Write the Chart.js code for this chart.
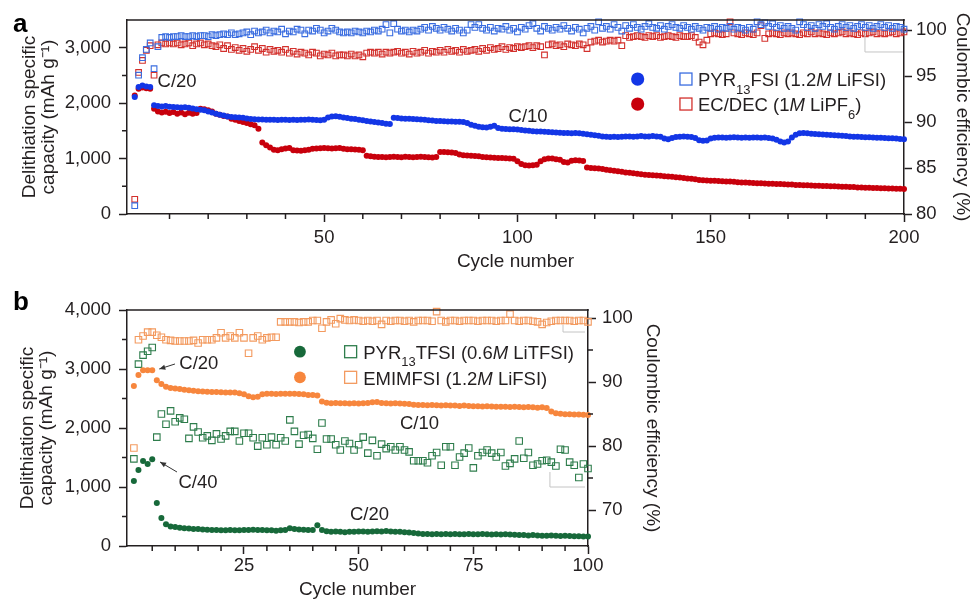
<!DOCTYPE html>
<html lang="en">
<head>
  <meta charset="UTF-8">
  <title>Delithiation capacity and coulombic efficiency</title>
  <style>
    * { margin: 0; padding: 0; box-sizing: border-box; }
    body { width: 972px; height: 600px; background: #fff; position: relative; overflow: hidden; }
    #chartA { position: absolute; left: 0; top: 0; }
    #chartB { position: absolute; left: 0; top: 285px; }
  </style>
</head>
<body>
  <canvas id="chartA" width="972" height="285"></canvas>
  <canvas id="chartB" width="700" height="315"></canvas>

  <script src="https://cdn.jsdelivr.net/npm/chart.js@4.4.1/dist/chart.umd.min.js"></script>
  <script>
    // ---- panel a: 200 cycles, one value per cycle ----
    const pyrCapA = [
      2110, 2290, 2320, 2300, 2290, 1960, 1950, 1940, 1950, 1935,
      1930, 1925, 1920, 1925, 1915, 1905, 1890, 1880, 1870, 1850,
      1830, 1810, 1790, 1775, 1760, 1750, 1745, 1740, 1735, 1725,
      1715, 1710, 1705, 1705, 1700, 1700, 1700, 1695, 1700, 1700,
      1695, 1700, 1695, 1700, 1700, 1705, 1700, 1695, 1690, 1700,
      1740, 1760, 1765, 1755, 1740, 1730, 1720, 1715, 1700, 1690,
      1680, 1670, 1660, 1650, 1640, 1630, 1625, 1735, 1730, 1725,
      1720, 1720, 1715, 1710, 1705, 1700, 1690, 1685, 1680, 1680,
      1675, 1670, 1670, 1665, 1665, 1660, 1640, 1610, 1590, 1575,
      1565, 1560, 1575, 1590, 1550, 1540, 1535, 1530, 1530, 1525,
      1515, 1505, 1500, 1495, 1490, 1490, 1485, 1480, 1475, 1470,
      1465, 1460, 1460, 1455, 1460, 1455, 1450, 1440, 1430, 1420,
      1410, 1400, 1395, 1390, 1395, 1390, 1395, 1400, 1400, 1395,
      1400, 1405, 1400, 1400, 1405, 1400, 1395, 1360, 1350, 1370,
      1390, 1395, 1400, 1395, 1390, 1370, 1330, 1320, 1325, 1360,
      1375, 1380, 1380, 1375, 1380, 1385, 1380, 1375, 1380, 1375,
      1380, 1380, 1375, 1380, 1370, 1360, 1340, 1310, 1290, 1310,
      1380, 1430, 1455, 1460, 1455, 1450, 1445, 1440, 1435, 1430,
      1425, 1420, 1415, 1410, 1405, 1400, 1395, 1395, 1390, 1385,
      1385, 1380, 1375, 1375, 1370, 1365, 1365, 1360, 1355, 1350
    ];
    const ecCapA = [
      2140, 2260, 2280, 2270, 2260, 1900, 1850, 1830, 1845, 1820,
      1840, 1810, 1830, 1800, 1825, 1810, 1820, 1900, 1890, 1870,
      1850, 1810, 1790, 1770, 1760, 1720, 1700, 1680, 1660, 1640,
      1620, 1600, 1540, 1290, 1240, 1200, 1160, 1150, 1170, 1180,
      1190, 1150, 1145, 1140, 1150, 1160, 1175, 1180, 1185, 1190,
      1185, 1180, 1185, 1190, 1175, 1170, 1170, 1165, 1160, 1150,
      1050, 1040, 1035, 1030, 1030, 1025, 1030, 1035, 1030, 1025,
      1035, 1030, 1025, 1030, 1035, 1030, 1025, 1020, 1030, 1120,
      1120, 1115, 1110, 1100, 1075, 1060, 1055, 1050, 1045, 1040,
      1030, 1025, 1020, 1015, 1010, 1010, 1005, 1000, 995, 950,
      900, 880, 875, 880, 890, 950, 990, 1000, 1000, 990,
      980, 940, 930, 960, 970, 965, 955, 840, 830, 825,
      820, 810, 800, 790, 780, 770, 760, 750, 745, 735,
      725, 715, 710, 705, 700, 695, 690, 680, 675, 670,
      665, 660, 650, 640, 635, 625, 615, 610, 605, 600,
      600, 595, 590, 585, 585, 580, 575, 570, 570, 565,
      560, 555, 555, 550, 545, 545, 540, 540, 535, 530,
      530, 525, 525, 520, 520, 515, 510, 510, 505, 505,
      500, 500, 495, 490, 490, 485, 485, 480, 480, 475,
      475, 470, 470, 465, 465, 460, 460, 455, 455, 450
    ];
    const pyrCEA = [
      80.9, 95.1, 97.0, 97.9, 98.6, 95.8, 98.2, 99.2, 99.3, 99.2,
      99.3, 99.3, 99.4, 99.3, 99.3, 99.4, 99.3, 99.4, 99.4, 99.3,
      99.5, 99.4, 99.5, 99.6, 99.5, 99.7, 99.5, 99.6, 99.7, 99.8,
      99.5, 99.9, 99.7, 99.8, 100.0, 99.7, 99.9, 99.8, 100.1, 99.6,
      99.9, 99.8, 100.1, 100.0, 99.6, 100.0, 99.9, 100.2, 100.0, 99.7,
      99.9, 100.2, 100.0, 99.8, 99.7, 99.8, 99.7, 99.9, 99.8, 99.7,
      99.9, 99.8, 100.0, 99.9, 100.1, 100.6, 99.7, 100.7, 100.1, 99.9,
      100.0, 99.8, 100.0, 99.9, 100.1, 100.3, 100.0, 100.4, 100.2, 100.0,
      100.3, 100.1, 99.9, 100.2, 100.0, 99.7, 100.0, 100.6, 100.3, 100.6,
      100.2, 100.0, 100.3, 99.9, 100.2, 100.1, 100.4, 100.0, 100.2, 99.8,
      100.3, 100.1, 100.5, 100.7, 100.2, 99.9, 100.4, 100.2, 100.0, 100.3,
      100.1, 100.5, 100.2, 99.9, 100.3, 100.1, 99.7, 100.2, 100.4, 100.0,
      100.9, 100.2, 100.4, 100.1, 100.6, 100.3, 99.9, 100.5, 100.2, 100.6,
      100.3, 100.1, 100.4, 100.7, 100.3, 100.2, 100.5, 100.1, 100.4, 100.6,
      100.3, 100.2, 100.5, 100.3, 100.1, 100.4, 100.2, 100.0, 100.3, 100.2,
      100.4, 100.1, 100.3, 100.2, 100.4, 100.1, 100.3, 100.2, 100.0, 100.3,
      100.1, 100.9, 100.6, 100.8, 100.4, 100.7, 100.3, 100.5, 100.2, 100.4,
      100.2, 100.0, 100.9, 100.6, 100.3, 100.5, 100.2, 100.6, 100.4, 100.7,
      100.3, 100.1, 100.4, 100.6, 100.3, 100.5, 100.2, 100.4, 100.6, 100.3,
      100.5, 100.2, 100.4, 100.6, 100.3, 100.5, 100.2, 100.4, 100.3, 100.1
    ];
    const ecCEA = [
      81.6, 95.4, 96.7, 97.8, 98.3, 95.1, 98.4, 98.6, 98.5, 98.6,
      98.5, 98.6, 98.4, 98.5, 98.6, 98.3, 98.5, 98.6, 98.4, 98.5,
      98.3, 98.2, 98.4, 98.0, 98.3, 97.9, 98.1, 97.8, 98.0, 97.7,
      97.9, 98.2, 97.8, 98.0, 97.6, 97.9, 97.7, 97.8, 97.6, 97.9,
      97.5, 97.7, 97.4, 97.6, 97.5, 97.3, 97.6, 97.5, 97.2, 97.4,
      97.3, 97.5, 97.2, 97.3, 97.3, 97.2, 97.4, 97.2, 97.3, 97.1,
      97.5, 97.6, 97.5, 97.6, 97.4, 97.6, 97.5, 97.6, 97.7, 97.5,
      97.6, 97.4, 97.7, 97.5, 97.6, 97.8, 97.5, 97.7, 97.6, 97.8,
      97.6, 97.9, 97.7, 97.8, 97.6, 97.9, 97.7, 97.8, 97.9, 97.7,
      98.0, 97.8, 98.1, 97.9, 98.0, 98.2, 97.9, 98.1, 98.0, 98.2,
      98.1, 98.2, 98.3, 98.1, 98.3, 98.2, 97.3, 98.4, 98.5, 98.3,
      98.4, 98.2, 98.5, 98.4, 98.3, 98.5, 98.4, 98.0, 98.7, 98.8,
      98.9, 98.7, 98.8, 98.9, 98.8, 98.9, 98.3, 99.4, 99.2, 99.3,
      99.4, 99.3, 99.2, 99.4, 99.3, 99.4, 99.2, 99.3, 99.4, 99.3,
      99.2, 99.4, 99.3, 99.3, 99.4, 99.2, 98.7, 98.4, 98.9, 99.6,
      99.7, 99.6, 99.5, 99.6, 100.9, 99.7, 99.6, 99.5, 99.7, 99.6,
      99.5, 99.7, 100.5, 99.1, 99.6, 99.7, 99.6, 99.5, 99.7, 99.6,
      99.7, 99.6, 99.5, 99.7, 99.6, 99.8, 99.6, 99.7, 99.6, 99.5,
      99.7, 99.6, 99.7, 99.8, 99.6, 99.7, 99.6, 99.5, 99.7, 99.6,
      99.7, 99.8, 99.6, 99.7, 99.6, 99.7, 99.8, 99.6, 99.7, 99.8
    ];

    // ---- panel b: 100 cycles ----
    const tfsiCapB = [
      1100, 1290, 1440, 1390, 1470, 730, 475, 370, 330, 320,
      310, 300, 295, 290, 290, 280, 275, 270, 270, 265,
      265, 270, 265, 265, 270, 270, 275, 270, 270, 265,
      265, 260, 265, 270, 300, 290, 280, 275, 270, 270,
      350, 270, 250, 240, 245, 240, 235, 240, 240, 245,
      245, 240, 245, 250, 245, 255, 245, 240, 240, 235,
      230, 220, 210, 205, 205, 200, 205, 200, 205, 200,
      205, 200, 200, 205, 200, 200, 205, 200, 195, 200,
      195, 200, 195, 190, 185, 185, 180, 185, 180, 175,
      175, 180, 175, 170, 175, 170, 165, 165, 160, 160
    ];
    const emimCapB = [
      2710, 2900, 2980, 2980, 2980, 2810, 2745, 2700, 2680, 2670,
      2660, 2650, 2640, 2630, 2625, 2620, 2615, 2610, 2610, 2605,
      2600, 2600, 2600, 2590, 2570, 2540, 2520, 2530, 2570, 2580,
      2580, 2575, 2580, 2580, 2580, 2580, 2575, 2570, 2560, 2560,
      2550, 2450, 2430, 2420, 2425, 2420, 2420, 2415, 2420, 2415,
      2420, 2425, 2435, 2440, 2425, 2420, 2415, 2420, 2415, 2410,
      2405, 2395, 2390, 2390, 2385, 2390, 2385, 2380, 2385, 2380,
      2380, 2375, 2380, 2375, 2370, 2370, 2365, 2370, 2365, 2360,
      2360, 2360, 2355, 2360, 2355, 2350, 2355, 2350, 2345, 2350,
      2340, 2280, 2250, 2240, 2235, 2235, 2230, 2230, 2225, 2220
    ];
    const tfsiCEB = [
      78.0, 92.8, 94.2, 94.8, 95.4, 81.4, 85.0, 83.4, 85.5, 83.8,
      84.4, 84.2, 81.2, 83.0, 82.2, 81.3, 81.6, 80.9, 81.9, 81.1,
      81.6, 82.3, 82.3, 80.8, 82.0, 82.0, 81.3, 80.0, 81.3, 80.2,
      81.4, 80.2, 81.3, 80.8, 84.1, 82.3, 80.3, 81.7, 81.8, 81.2,
      79.5, 83.6, 81.1, 81.1, 80.2, 79.4, 80.8, 80.4, 79.4, 80.2,
      81.4, 78.9, 80.9, 78.5, 80.3, 79.6, 79.9, 79.4, 79.9, 79.4,
      79.1, 77.7, 77.7, 77.7, 77.4, 78.5, 79.0, 77.0, 79.9, 79.9,
      77.0, 78.3, 78.9, 79.7, 76.6, 78.5, 79.0, 79.4, 78.9, 78.3,
      79.0, 76.9, 77.3, 78.0, 80.8, 78.1, 79.0, 77.0, 77.2, 77.7,
      77.8, 77.5, 76.9, 79.5, 79.4, 77.5, 77.0, 75.1, 77.2, 76.5
    ];
    const emimCEB = [
      79.7, 96.6, 97.2, 97.8, 97.8, 97.3, 97.0, 96.6, 96.5, 96.4,
      96.4, 96.4, 96.4, 96.5, 96.1, 96.6, 96.6, 96.6, 96.9, 97.7,
      96.9, 97.2, 96.9, 97.7, 96.9, 94.5, 96.9, 97.2, 96.6, 96.9,
      97.0, 97.0, 99.4, 99.4, 99.4, 99.4, 99.3, 99.4, 99.4, 99.6,
      99.6, 98.4, 99.4, 99.7, 99.1, 99.9, 99.7, 99.6, 99.7, 99.6,
      99.5, 99.6, 99.5, 99.6, 99.0, 99.6, 99.5, 99.6, 99.6, 99.5,
      99.6, 99.4, 99.6, 99.6, 99.6, 99.5, 101.0, 99.6, 99.4, 99.6,
      99.6, 99.5, 99.6, 99.6, 99.6, 99.5, 99.6, 99.6, 99.6, 99.5,
      99.6, 99.6, 100.6, 99.6, 99.5, 99.6, 99.6, 99.5, 99.4, 99.0,
      99.3, 99.5, 99.6, 99.6, 99.6, 99.6, 99.5, 99.6, 99.6, 99.4
    ];

    // tick values
    const aXTicks = [50, 100, 150, 200];
    const aXMinor = [10, 20, 30, 40, 60, 70, 80, 90, 110, 120, 130, 140, 160, 170, 180, 190];
    const aCapTicks = [0, 1000, 2000, 3000];
    const aCapMinor = [500, 1500, 2500];
    const aCETicks = [80, 85, 90, 95, 100];
    const bXTicks = [25, 50, 75, 100];
    const bXMinor = [5, 10, 15, 20, 30, 35, 40, 45, 55, 60, 65, 70, 80, 85, 90, 95];
    const bCapTicks = [0, 1000, 2000, 3000, 4000];
    const bCapMinor = [500, 1500, 2500, 3500];
    const bCETicks = [70, 80, 90, 100];
    const bCEMinor = [75, 85, 95];

    const FONT = '"Liberation Sans", Arial, Helvetica, sans-serif';
    const INK = '#231f20';
    Chart.defaults.font.family = FONT;
    Chart.defaults.color = INK;

    function series(values) {
      return values.map((v, i) => ({x: i + 1, y: v}));
    }

    function dots(label, values, color, axisId, r) {
      return {
        label, data: series(values), yAxisID: axisId, showLine: false, clip: false,
        pointStyle: 'circle', pointRadius: r, pointBorderWidth: 0,
        pointBackgroundColor: color, pointBorderColor: color
      };
    }

    function squares(label, values, color, axisId, r) {
      return {
        label, data: series(values), yAxisID: axisId, showLine: false, clip: false,
        pointStyle: 'rect', pointRadius: r, pointBorderWidth: 1.1,
        pointBackgroundColor: 'rgba(255,255,255,0)', pointBorderColor: color
      };
    }

    function axis(o) {
      return {
        type: 'linear',
        position: o.position,
        min: o.min,
        max: o.max,
        afterBuildTicks: s => { s.ticks = o.ticks.map(v => ({value: v})); },
        afterFit: s => {
          if (o.width) s.width = o.width;
          if (o.height) s.height = o.height;
        },
        border: {display: true, color: INK, width: 1.5},
        grid: {display: true, drawOnChartArea: false, drawTicks: true, tickLength: 8, tickWidth: 1.5, tickColor: INK, color: INK},
        ticks: {
          font: {size: 18.5, lineHeight: 1.2}, color: INK, padding: o.pad,
          autoSkip: false, maxRotation: 0,
          callback: o.comma ? (v => v.toLocaleString('en-US')) : (v => String(v))
        },
        title: {display: true, text: o.title, color: INK, font: {size: 19, lineHeight: 1}, padding: o.titlePad}
      };
    }

    function richText(ctx, x, y, parts, size) {
      let cx = x;
      ctx.textBaseline = 'alphabetic';
      ctx.textAlign = 'left';
      parts.forEach(([t, kind]) => {
        const fs = kind === 'sub' ? size * 0.7 : size;
        ctx.font = (kind === 'it' ? 'italic ' : '') + fs + 'px ' + FONT;
        ctx.fillText(t, cx, y + (kind === 'sub' ? size * 0.4 : 0));
        cx += ctx.measureText(t).width;
      });
    }

    function arrowTo(ctx, x1, y1, x2, y2) {
      ctx.beginPath();
      ctx.moveTo(x1, y1);
      ctx.lineTo(x2, y2);
      ctx.stroke();
      const ang = Math.atan2(y2 - y1, x2 - x1), L = 6, W = 2.6;
      ctx.beginPath();
      ctx.moveTo(x2, y2);
      ctx.lineTo(x2 - L * Math.cos(ang) + W * Math.sin(ang), y2 - L * Math.sin(ang) - W * Math.cos(ang));
      ctx.lineTo(x2 - L * Math.cos(ang) - W * Math.sin(ang), y2 - L * Math.sin(ang) + W * Math.cos(ang));
      ctx.closePath();
      ctx.fill();
    }

    // frame top, minor ticks, notes, arrows, legend and panel letter
    function decor(d) {
      return {
        id: 'decor',
        afterDraw(chart) {
          const {ctx, chartArea: a, scales} = chart;
          const X = scales.x, Y = scales.y, Y1 = scales.y1;
          const px = v => X.getPixelForValue(v), py = v => Y.getPixelForValue(v);
          ctx.save();

          ctx.strokeStyle = INK;
          ctx.lineWidth = 1.5;
          ctx.beginPath();
          ctx.moveTo(a.left - 0.75, a.top);
          ctx.lineTo(a.right + 0.75, a.top);
          d.minorX.forEach(v => { const p = px(v); ctx.moveTo(p, a.bottom); ctx.lineTo(p, a.bottom + 5); });
          d.minorY.forEach(v => { const p = py(v); ctx.moveTo(a.left - 5, p); ctx.lineTo(a.left, p); });
          d.minorY1.forEach(v => { const p = Y1.getPixelForValue(v); ctx.moveTo(a.right, p); ctx.lineTo(a.right + 5, p); });
          ctx.stroke();

          ctx.strokeStyle = '#c4c4c4';
          ctx.lineWidth = 1;
          d.guides.forEach(g => {
            ctx.beginPath();
            g.forEach(([x, y], i) => (i ? ctx.lineTo(px(x), py(y)) : ctx.moveTo(px(x), py(y))));
            ctx.stroke();
          });

          ctx.strokeStyle = '#333';
          ctx.fillStyle = '#333';
          ctx.lineWidth = 1;
          d.arrows.forEach(([x1, y1, x2, y2]) => arrowTo(ctx, px(x1), py(y1), px(x2), py(y2)));

          ctx.fillStyle = INK;
          d.notes.forEach(([x, y, t]) => richText(ctx, px(x), py(y), [[t]], 18.5));

          d.legend.forEach(row => {
            const cx = px(d.legendX), cy = py(row.y);
            ctx.fillStyle = row.dot;
            ctx.beginPath();
            ctx.arc(cx, cy, d.dotR, 0, Math.PI * 2);
            ctx.fill();
            ctx.strokeStyle = row.square;
            ctx.lineWidth = 1.3;
            ctx.strokeRect(cx + d.squareDx - 6, cy - 6, 12, 12);
            ctx.fillStyle = INK;
            richText(ctx, cx + d.textDx, cy + 7.3, row.parts, 18.5);
          });

          ctx.fillStyle = '#000';
          ctx.font = 'bold 26px ' + FONT;
          ctx.textBaseline = 'alphabetic';
          ctx.fillText(d.letter, 13, d.letterY);
          ctx.restore();
        }
      };
    }

    const capTitle = ['Delithiation specific', 'capacity (mAh g\u207B\u00B9)'];
    const ceTitle = 'Coulombic efficiency (%)';

    // panel a
    new Chart(document.getElementById('chartA'), {
      type: 'scatter',
      data: {
        datasets: [
          dots('PYR13FSI (1.2M LiFSI)', pyrCapA, '#1336e6', 'y', 3),
          dots('EC/DEC (1M LiPF6)', ecCapA, '#c8000c', 'y', 3),
          squares('PYR13FSI (1.2M LiFSI) CE', pyrCEA, '#3a6de0', 'y1', 4),
          squares('EC/DEC (1M LiPF6) CE', ecCEA, '#d3302c', 'y1', 4)
        ]
      },
      options: {
        responsive: false, animation: false, events: [],
        layout: {padding: {top: 20, left: 0, right: 0, bottom: 0}},
        plugins: {legend: {display: false}, tooltip: {enabled: false}},
        scales: {
          x: axis({position: 'bottom', min: -1, max: 200, ticks: aXTicks, height: 71, pad: 5,
            title: 'Cycle number', titlePad: {top: 0, bottom: 13.5}}),
          y: axis({position: 'left', min: 0, max: 3500, ticks: aCapTicks, width: 127, pad: 8, comma: true,
            title: capTitle, titlePad: {top: 20.5, bottom: 0}}),
          y1: axis({position: 'right', min: 80, max: 101.1, ticks: aCETicks, width: 68, pad: 4,
            title: ceTitle, titlePad: {top: 0, bottom: 0}})
        }
      },
      plugins: [decor({
        letter: 'a', letterY: 32,
        minorX: aXMinor, minorY: aCapMinor, minorY1: [],
        guides: [[[189.9, 3265], [189.9, 2923], [199.7, 2923]]],
        arrows: [],
        notes: [[6.9, 2297, 'C/20'], [97.7, 1665, 'C/10']],
        legendX: 131.1, dotR: 6.6, squareDx: 48.3, textDx: 60.3,
        legend: [
          {y: 2435, dot: '#1336e6', square: '#3a6de0',
            parts: [['PYR'], ['13', 'sub'], ['FSI (1.2'], ['M', 'it'], [' LiFSI)']]},
          {y: 1984, dot: '#c8000c', square: '#d3302c',
            parts: [['EC/DEC (1'], ['M', 'it'], [' LiPF'], ['6', 'sub'], [')']]}
        ]
      })]
    });

    // panel b
    new Chart(document.getElementById('chartB'), {
      type: 'scatter',
      data: {
        datasets: [
          dots('PYR13TFSI (0.6M LiTFSI)', tfsiCapB, '#17693a', 'y', 3),
          dots('EMIMFSI (1.2M LiFSI)', emimCapB, '#f7863d', 'y', 3),
          squares('PYR13TFSI (0.6M LiTFSI) CE', tfsiCEB, '#2e7d4c', 'y1', 4.6),
          squares('EMIMFSI (1.2M LiFSI) CE', emimCEB, '#f39a5f', 'y1', 4.6)
        ]
      },
      options: {
        responsive: false, animation: false, events: [],
        layout: {padding: {top: 25, left: 0, right: 0, bottom: 0}},
        plugins: {legend: {display: false}, tooltip: {enabled: false}},
        scales: {
          x: axis({position: 'bottom', min: -0.5, max: 100, ticks: bXTicks, height: 54, pad: 1,
            title: 'Cycle number', titlePad: {top: 0, bottom: 0.5}}),
          y: axis({position: 'left', min: 0, max: 4000, ticks: bCapTicks, width: 127, pad: 8, comma: true,
            title: capTitle, titlePad: {top: 18.5, bottom: 0}}),
          y1: axis({position: 'right', min: 64.4, max: 101.25, ticks: bCETicks, width: 112, pad: 6,
            title: ceTitle, titlePad: {top: 38.5, bottom: 0}})
        }
      },
      plugins: [decor({
        letter: 'b', letterY: 25,
        minorX: bXMinor, minorY: bCapMinor, minorY1: bCEMinor,
        guides: [[[94.55, 3746], [94.55, 3627], [99.35, 3627]], [[91.7, 1254], [91.7, 1000], [99.35, 1000]]],
        arrows: [[9.96, 3085, 6.54, 3000], [10.4, 1254, 6.7, 1424]],
        notes: [[10.9, 2995, 'C/20'], [10.7, 988, 'C/40'], [59.0, 1978, 'C/10'], [48.1, 441, 'C/20']],
        legendX: 37.2, dotR: 5.9, squareDx: 50.7, textDx: 63.3,
        legend: [
          {y: 3293, dot: '#17693a', square: '#2e7d4c',
            parts: [['PYR'], ['13', 'sub'], ['TFSI (0.6'], ['M', 'it'], [' LiTFSI)']]},
          {y: 2859, dot: '#f7863d', square: '#f39a5f',
            parts: [['EMIMFSI (1.2'], ['M', 'it'], [' LiFSI)']]}
        ]
      })]
    });
  </script>
</body>
</html>
